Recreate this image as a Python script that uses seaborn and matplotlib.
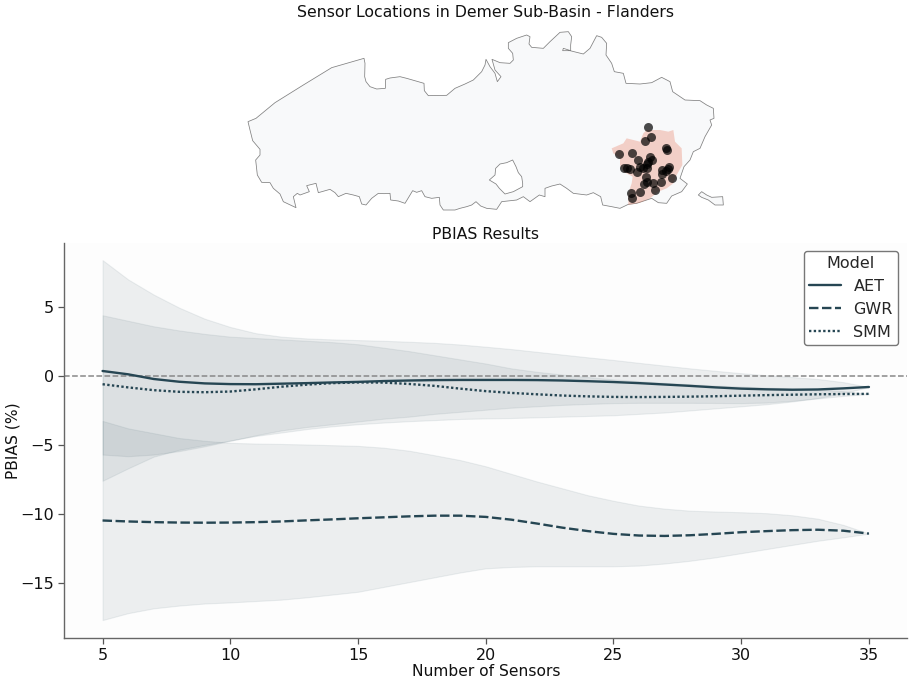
import matplotlib
matplotlib.use("Agg")
import matplotlib.pyplot as plt
import pandas as pd
import seaborn as sns

sensors = list(range(5, 36))

aet_mean = [0.36, 0.12, -0.22, -0.42, -0.54, -0.59, -0.6, -0.56, -0.52, -0.47, -0.43, -0.37, -0.33, -0.3, -0.29, -0.29,
            -0.29, -0.3, -0.33, -0.38, -0.44, -0.52, -0.62, -0.72, -0.83, -0.92, -0.97, -1.0, -0.98, -0.9, -0.8]
aet_upper = [8.4, 7.0, 5.9, 4.95, 4.15, 3.55, 3.1, 2.85, 2.72, 2.65, 2.6, 2.55, 2.48, 2.4, 2.28, 2.12,
             1.95, 1.75, 1.55, 1.35, 1.16, 0.95, 0.75, 0.55, 0.37, 0.2, 0.05, -0.08, -0.22, -0.45, -0.8]
aet_lower = [-7.6, -6.7, -5.85, -5.35, -5.0, -4.68, -4.35, -4.1, -3.85, -3.65, -3.5, -3.38, -3.28, -3.2, -3.12, -3.08,
             -3.05, -3.0, -2.95, -2.9, -2.85, -2.75, -2.65, -2.5, -2.35, -2.2, -2.05, -1.85, -1.6, -1.25, -0.8]

gwr_mean = [-10.48, -10.55, -10.6, -10.63, -10.64, -10.63, -10.6, -10.55, -10.47, -10.4, -10.32, -10.25, -10.18, -10.13,
            -10.13, -10.22, -10.42, -10.7, -11.0, -11.25, -11.45, -11.57, -11.6, -11.55, -11.45, -11.33, -11.25, -11.18,
            -11.15, -11.22, -11.43]
gwr_upper = [-3.26, -3.8, -4.15, -4.5, -4.7, -4.85, -4.9, -4.93, -4.97, -5.02, -5.07, -5.2, -5.42, -5.75, -6.1, -6.55,
             -7.1, -7.65, -8.15, -8.65, -9.05, -9.4, -9.62, -9.77, -9.83, -9.88, -9.95, -10.1, -10.35, -10.8, -11.43]
gwr_lower = [-17.7, -17.2, -16.85, -16.65, -16.5, -16.42, -16.32, -16.22, -16.05, -15.85, -15.65, -15.3, -14.95, -14.6,
             -14.25, -13.95, -13.85, -13.8, -13.8, -13.8, -13.8, -13.75, -13.6, -13.4, -13.15, -12.85, -12.55, -12.25,
             -11.95, -11.7, -11.43]

smm_mean = [-0.6, -0.83, -1.03, -1.15, -1.18, -1.13, -0.97, -0.78, -0.63, -0.52, -0.47, -0.48, -0.58, -0.72, -0.92, -1.1,
            -1.23, -1.33, -1.42, -1.48, -1.52, -1.53, -1.52, -1.5, -1.47, -1.43, -1.39, -1.36, -1.33, -1.31, -1.3]
smm_upper = [4.4, 4.0, 3.6, 3.3, 3.05, 2.85, 2.75, 2.65, 2.55, 2.45, 2.3, 2.05, 1.8, 1.5, 1.2, 0.9,
             0.55, 0.3, 0.1, -0.08, -0.25, -0.38, -0.5, -0.6, -0.7, -0.77, -0.85, -0.9, -0.97, -1.1, -1.3]
smm_lower = [-5.7, -5.82, -5.7, -5.45, -5.1, -4.7, -4.3, -3.95, -3.7, -3.5, -3.3, -3.1, -2.95, -2.75, -2.6, -2.45,
             -2.3, -2.2, -2.1, -2.03, -1.97, -1.95, -1.95, -1.95, -1.96, -1.97, -1.93, -1.8, -1.63, -1.45, -1.3]

# map outlines
flanders = [(24, 305), (48, 295), (105, 248), (190, 195), (275, 143), (372, 115), (375, 130), (374, 170), (378, 185),
            (390, 200), (410, 207), (436, 205), (437, 178), (450, 174), (480, 170), (500, 175), (552, 190), (553, 212),
            (565, 227), (620, 226), (645, 205), (675, 192), (700, 180), (725, 155), (735, 135), (738, 118), (750, 140),
            (765, 160), (772, 185), (783, 170), (765, 150), (756, 118), (780, 128), (810, 130), (820, 120), (818, 100),
            (805, 85), (805, 68), (830, 55), (860, 45), (870, 50), (867, 72), (875, 82), (910, 85), (930, 65), (960, 37),
            (985, 35), (995, 50), (992, 75), (992, 92), (970, 85), (968, 92), (990, 92), (1030, 102), (1050, 85),
            (1070, 47), (1085, 52), (1100, 70), (1098, 105), (1115, 130), (1123, 155), (1150, 160), (1158, 190),
            (1200, 192), (1235, 188), (1265, 172), (1290, 185), (1298, 215), (1335, 240), (1380, 242), (1400, 255),
            (1420, 265), (1422, 295), (1410, 300), (1415, 315), (1395, 350), (1380, 385), (1360, 395), (1350, 420),
            (1332, 440), (1320, 475), (1342, 492), (1325, 515), (1295, 528), (1280, 550), (1255, 548), (1235, 535),
            (1190, 550), (1165, 553), (1140, 565), (1115, 560), (1088, 555), (1082, 530), (1060, 518), (1040, 525),
            (1000, 520), (980, 505), (960, 492), (935, 498), (915, 505), (915, 530), (898, 525), (870, 545), (850, 530),
            (830, 540), (785, 545), (770, 568), (740, 565), (722, 558), (708, 545), (695, 555), (680, 560), (660, 565),
            (645, 570), (610, 570), (600, 555), (598, 532), (575, 535), (555, 530), (545, 512), (530, 517), (518, 512),
            (495, 550), (475, 543), (452, 540), (450, 520), (432, 521), (415, 520), (395, 535), (378, 555), (365, 552),
            (358, 530), (340, 525), (318, 520), (295, 530), (285, 518), (270, 508), (235, 518), (228, 490), (200, 497),
            (208, 515), (180, 525), (172, 520), (160, 530), (168, 563), (130, 545), (120, 522), (100, 505), (90, 488),
            (65, 487), (52, 465), (47, 420), (60, 405), (60, 388), (38, 362), (30, 330)]
hole = [(748, 480), (765, 465), (767, 445), (780, 432), (800, 428), (818, 420), (828, 440), (835, 458), (845, 470),
        (848, 490), (848, 500), (820, 515), (795, 522), (778, 505), (768, 492)]
exclave = [(1375, 525), (1385, 515), (1400, 525), (1415, 532), (1448, 530), (1450, 555), (1425, 555), (1405, 540),
           (1385, 532)]
basin = [(1115, 385), (1150, 370), (1160, 355), (1200, 365), (1210, 340), (1220, 330), (1260, 330), (1285, 335),
         (1300, 330), (1305, 365), (1325, 385), (1327, 435), (1310, 465), (1300, 490), (1280, 505), (1255, 515),
         (1230, 535), (1200, 548), (1165, 555), (1165, 520), (1175, 490), (1178, 470), (1150, 455), (1140, 435),
         (1140, 415), (1120, 400)]
sensor_x = [1225, 1232, 1214, 1279, 1280, 1137, 1177, 1193, 1230, 1235, 1225, 1220, 1200, 1210, 1220, 1152, 1160, 1170,
            1192, 1265, 1288, 1285, 1278, 1267, 1297, 1218, 1240, 1220, 1213, 1263, 1244, 1201, 1173, 1177]
sensor_y = [322, 352, 363, 383, 390, 402, 400, 420, 412, 420, 425, 432, 440, 443, 443, 443, 445, 447,
            455, 450, 440, 448, 452, 463, 473, 472, 488, 485, 492, 487, 510, 516, 520, 535]

LINE_COLOR = "#264653"
W, H = 912, 685

sns.set_theme(style="white", font="DejaVu Sans")
plt.rcParams["font.size"] = 11

fig = plt.figure(figsize=(W / 100, H / 100), dpi=100)

# map on top
ax_map = fig.add_axes([240 / W, 1 - 215 / H, 492 / W, 190 / H])
for shape, face in [(flanders, "#f8f9fa"), (exclave, "#f8f9fa"), (hole, "white")]:
    xs, ys = zip(*shape)
    ax_map.fill(xs, ys, facecolor=face, edgecolor="#808080", linewidth=0.55, joinstyle="round")
xs, ys = zip(*basin)
ax_map.fill(xs, ys, facecolor="#e76f51", alpha=0.3, linewidth=0)
map_df = pd.DataFrame({"x": sensor_x, "y": sensor_y})
sns.scatterplot(data=map_df, x="x", y="y", color="black", alpha=0.7, s=42, linewidth=0, ax=ax_map)
ax_map.set_xlim(0, 1476)
ax_map.set_ylim(585, 15)
ax_map.set_axis_off()
ax_map.set_title("Sensor Locations in Demer Sub-Basin - Flanders", fontsize=11.3, pad=5.5, color="#111111")

# PBIAS lines
ax = fig.add_axes([64.5 / W, 1 - 638 / H, 842.5 / W, 395 / H])
ax.set_facecolor("#fdfdfd")

models = ["AET", "GWR", "SMM"]
means = [aet_mean, gwr_mean, smm_mean]
uppers = [aet_upper, gwr_upper, smm_upper]
lowers = [aet_lower, gwr_lower, smm_lower]

frames = []
for name, vals in zip(models, means):
    frames.append(pd.DataFrame({"Number of Sensors": sensors, "PBIAS (%)": vals, "Model": name}))
df = pd.concat(frames, ignore_index=True)

for lo, up in zip(lowers, uppers):
    ax.fill_between(sensors, lo, up, color=LINE_COLOR, alpha=0.08, linewidth=0.8)

ax.axhline(0, color="#888888", linestyle="--", linewidth=1.1, zorder=1)
sns.lineplot(data=df, x="Number of Sensors", y="PBIAS (%)", style="Model", color=LINE_COLOR,
             linewidth=1.7, ax=ax, zorder=3)

ax.set_xlim(3.51, 36.49)
ax.set_ylim(-19, 9.64)
ax.set_xticks([5, 10, 15, 20, 25, 30, 35])
ax.set_yticks([5, 0, -5, -10, -15])
ax.set_yticklabels(["5", "0", "\u22125", "\u221210", "\u221215"])
ax.tick_params(axis="both", length=4, width=0.9, color="#555555", labelsize=11.5, pad=3.5, left=True, bottom=True,
               labelcolor="#111111")
ax.set_xlabel("Number of Sensors", fontsize=11.2, labelpad=0.5, color="#111111")
ax.set_ylabel("PBIAS (%)", fontsize=11.2, labelpad=0, color="#111111")
ax.set_title("PBIAS Results", fontsize=11.3, pad=3, color="#111111")
sns.despine(ax=ax)
for side in ["left", "bottom"]:
    ax.spines[side].set_color("#666666")
    ax.spines[side].set_linewidth(1.0)

ax.legend(title="Model", loc="upper right", bbox_to_anchor=(0.9893, 0.98), borderaxespad=0, frameon=True,
          framealpha=1, facecolor="white", edgecolor="#777777", fontsize=11.5, title_fontsize=11.5, borderpad=0.32)

plt.savefig("out.png", dpi=100)
plt.close()
